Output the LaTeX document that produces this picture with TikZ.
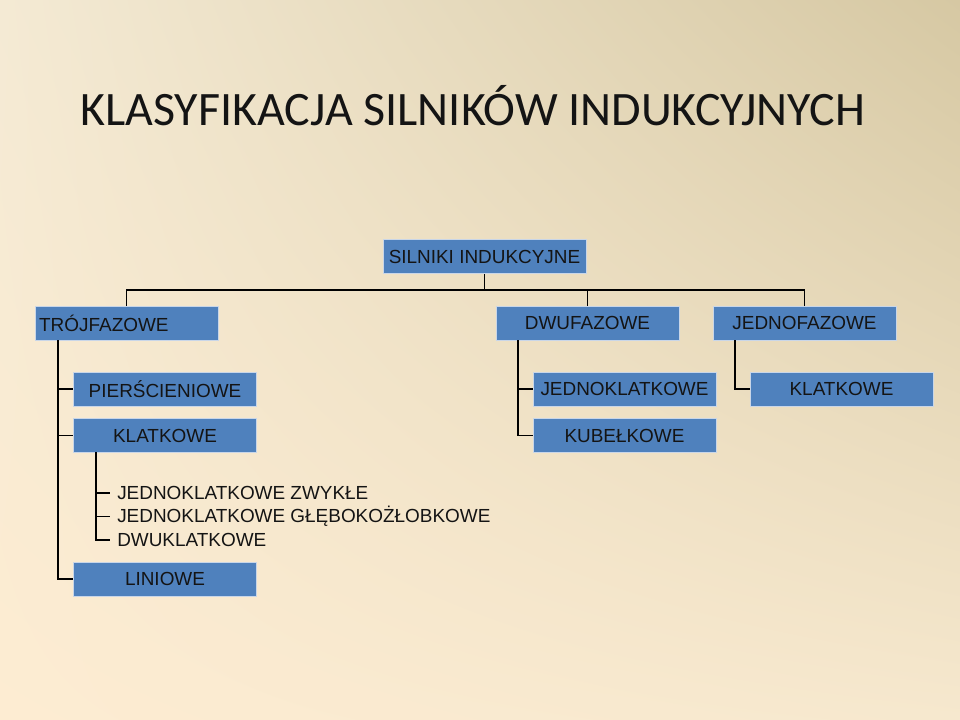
\documentclass[tikz,border=0pt]{standalone}
\usepackage{fontspec}
\usetikzlibrary{shadings}
\newfontfamily\arialf{Liberation Sans}
\newfontfamily\calibrif{Carlito}
\definecolor{boxblue}{HTML}{4F81BD}
\definecolor{boxedge}{HTML}{C9D6E8}
\definecolor{inkc}{HTML}{141414}
\definecolor{bgLL}{HTML}{FDECD2}
\definecolor{bgUL}{HTML}{F4EAD4}
\definecolor{bgLR}{HTML}{F6E8CE}
\definecolor{bgUR}{HTML}{D6C8A3}
\begin{document}
\begin{tikzpicture}[x=0.75pt, y=-0.75pt,
  box/.style={rectangle, fill=boxblue, draw=boxedge, line width=0.5pt, minimum width=137pt, minimum height=25.5pt, inner sep=0pt, text=inkc, font=\arialf\fontsize{14.2}{16}\selectfont},
  item/.style={anchor=west, inner sep=0pt, text=inkc, font=\arialf\fontsize{14.2}{16}\selectfont},
  conn/.style={draw=black, line width=1.1pt}]
\useasboundingbox (0,0) rectangle (960,720);
\shade[lower left=bgLL, upper right=bgUR, upper left=bgUL, lower right=bgLR] (0,720) rectangle (960,0);
\node[anchor=base west, inner sep=0pt, text=inkc, font=\calibrif\fontsize{36}{40}\selectfont] (title) at (80,126) {KLASYFIKACJA SILNIKÓW INDUKCYJNYCH};
% level 0
\node[box, minimum width=152pt] (root) at (484.5,256.5) {SILNIKI INDUKCYJNE};
% level 1
\node[box, text width=131pt, align=left] (trojf) at (126.5,323) {TRÓJFAZOWE};
\node[box] (dwuf) at (587.5,323) {DWUFAZOWE};
\node[box] (jednof) at (804.5,323) {JEDNOFAZOWE};
% level 2
\node[box] (piersc) at (165,389) {PIERŚCIENIOWE};
\node[box] (klatl) at (165,435.5) {KLATKOWE};
\node[box] (liniowe) at (165,579) {LINIOWE};
\node[box] (jednokl) at (624.5,389) {JEDNOKLATKOWE};
\node[box] (kubelk) at (624.5,435.5) {KUBEŁKOWE};
\node[box] (klatr) at (841.5,389) {KLATKOWE};
% list under KLATKOWE
\node[item] (zwykle) at (117,493) {JEDNOKLATKOWE ZWYKŁE};
\node[item] (gleboko) at (117,516.5) {JEDNOKLATKOWE GŁĘBOKOŻŁOBKOWE};
\node[item] (dwukl) at (117,540) {DWUKLATKOWE};
% junctions
\coordinate (bus) at (484.5,290);
\coordinate (tspine) at (58,340);
\coordinate (kspine) at (96,452);
\coordinate (dspine) at (518,340);
\coordinate (jspine) at (735,340);
\draw[conn] (root) -- (bus);
\draw[conn] (bus) -| (trojf);
\draw[conn] (bus) -| (dwuf);
\draw[conn] (bus) -| (jednof);
\draw[conn] (tspine) |- (piersc.west);
\draw[conn] (tspine) |- (klatl.west);
\draw[conn] (tspine) |- (liniowe.west);
\draw[conn] (kspine) |- ([xshift=-5pt]zwykle.west);
\draw[conn] (kspine) |- ([xshift=-5pt]gleboko.west);
\draw[conn] (kspine) |- ([xshift=-5pt]dwukl.west);
\draw[conn] (dspine) |- (jednokl.west);
\draw[conn] (dspine) |- (kubelk.west);
\draw[conn] (jspine) |- (klatr.west);
\end{tikzpicture}
\end{document}
